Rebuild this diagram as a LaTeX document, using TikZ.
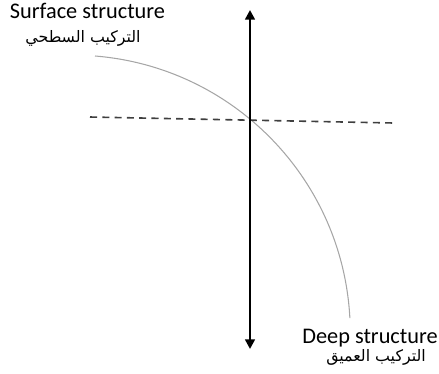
\documentclass[tikz,border=0pt]{standalone}
\usepackage{fontspec}
\setmainfont{Carlito}
\newfontfamily\arabicfont[Script=Arabic]{DejaVu Sans}
\TeXXeTstate=1
\usepackage{tikz}
\usetikzlibrary{positioning,arrows.meta}
\definecolor{arccol}{HTML}{A6A6A6}
\definecolor{dashcol}{HTML}{3F3F3F}

\begin{document}
\begin{tikzpicture}[x=0.02cm, y=0.02cm,
            lbl/.style={inner sep=0pt, anchor=base, font=\fontsize{12.7}{15}\selectfont},
            arlbl/.style={inner sep=0pt, font=\fontsize{9}{11}\selectfont\arabicfont},
            axis/.style={line width=1.7pt, {Triangle[length=5.5pt,width=5.5pt]}-{Triangle[length=5.5pt,width=5.5pt]}},
            guide/.style={line width=0.9pt, dashcol, dash pattern=on 4pt off 3pt},
            curve/.style={line width=0.6pt, arccol}]
        \useasboundingbox (0,0) rectangle (439,373);
        % labels
        \node[lbl] (surf) at (87.5,355) {Surface structure};
        \node[arlbl] (surfar) at (83,335) {\beginR التركيب السطحي\endR};
        \node[lbl] (deep) at (370,30) {Deep structure};
        \node[arlbl] (deepar) at (376,16) {\beginR التركيب العميق\endR};
        % axes
        \coordinate (top) at (250,363);
        \coordinate (bot) at (250,24);
        \coordinate (dl) at (90,256);
        \coordinate (dr) at (393,250);
        \coordinate (cs) at (95,317);
        \draw[curve] (cs) arc[start angle=85.4, end angle=3, radius=277.5];
        \draw[guide] (dl)--(dr);
        \draw[axis] (bot)--(top);
      \end{tikzpicture}
\end{document}
